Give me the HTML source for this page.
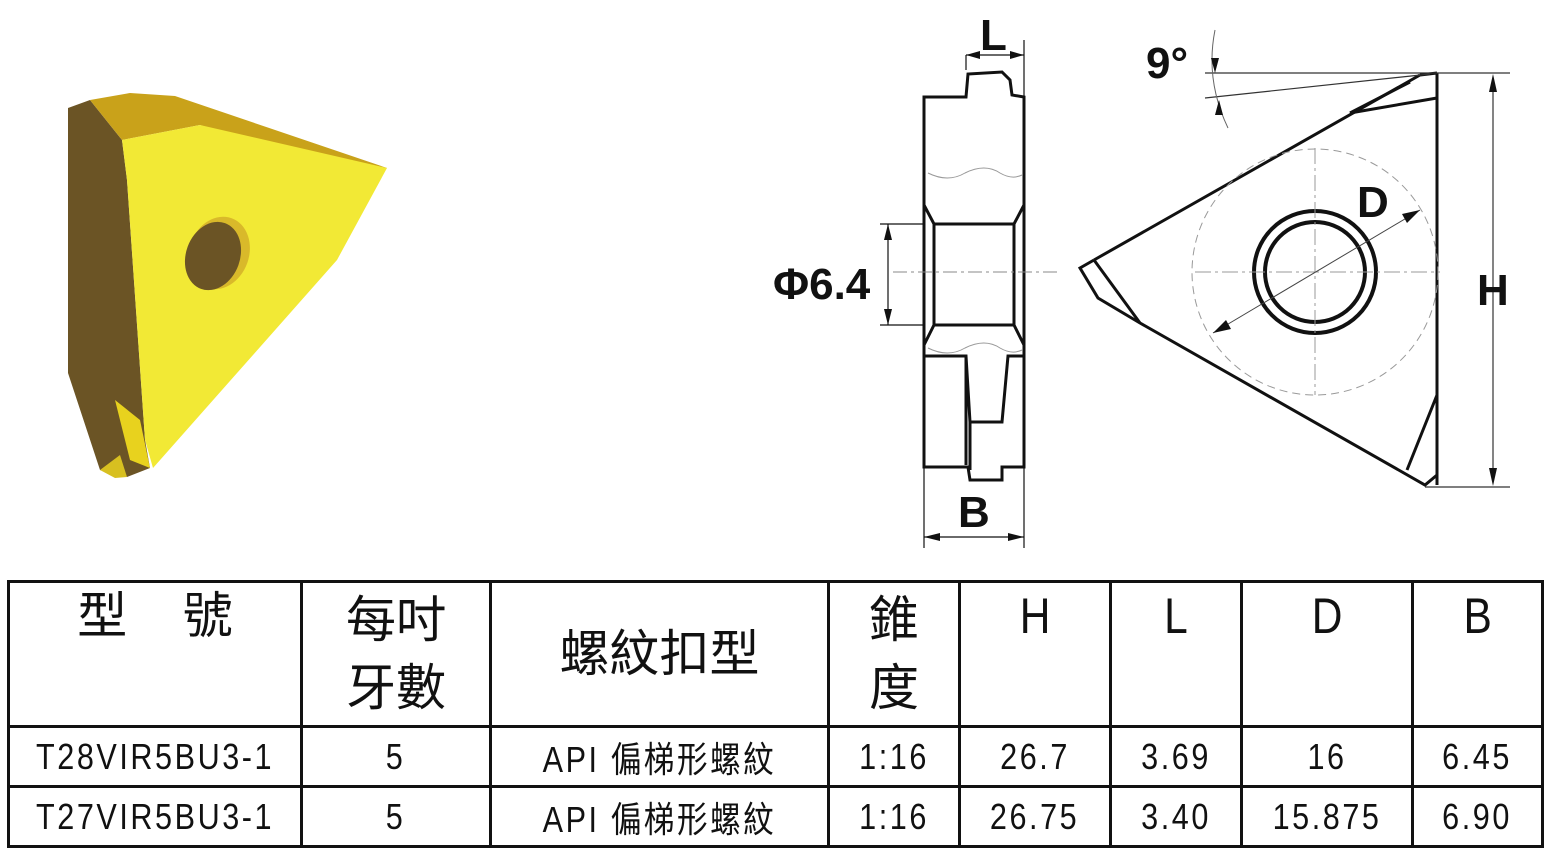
<!DOCTYPE html>
<html><head><meta charset="utf-8"><style>
html,body{margin:0;padding:0;background:#fff;}
body{width:1554px;height:856px;position:relative;overflow:hidden;font-family:"Liberation Sans","Noto Sans CJK TC",sans-serif;}
svg{position:absolute;left:0;top:0;}
table{position:absolute;left:7px;top:580px;border-collapse:collapse;table-layout:fixed;width:1534px;}
td{border:3px solid #111;text-align:center;padding:0;color:#111;overflow:hidden;white-space:nowrap;}
.h{font-size:50px;line-height:66px;}
.d{font-size:36px;height:60px;letter-spacing:3px;}
.n{display:inline-block;transform:scaleX(0.85);}
</style></head><body>
<svg width="1554" height="570" viewBox="0 0 1554 570">
<polygon points="68,108 90,100 122,140 127,180 145,440 150,468 127,477 100,470 68,373" fill="#6b5425"/>
<polygon points="90,100 130,93 175,96 387,168 337,170 200,125 122,140" fill="#c9a21a"/>
<polygon points="122,140 200,125 387,168 337,260 153,468 145,440 127,180" fill="#f2e935"/>
<polygon points="115,400 130,460 150,468 140,420" fill="#e8d21e"/>
<polygon points="100,470 115,478 127,477 120,455" fill="#d8c020"/>
<ellipse cx="219" cy="253" rx="30" ry="37" transform="rotate(20 219 253)" fill="#d9b92a"/>
<ellipse cx="213" cy="256" rx="27" ry="35" transform="rotate(20 213 256)" fill="#6b5425"/>

<g stroke="#111" fill="none">
<path d="M924,97 L966,97 L968,74 L1002,72 L1010,80 L1012,95 L1024,97 L1024,467 L1002,467 L1002,480 L970,480 L968,467 L924,467 Z" stroke-width="3" fill="#fff"/>
<path d="M924,205 L934,224 L1014,224 L1024,205 M924,345 L934,325 L1014,325 L1024,345 M934,224 L934,325 M1014,224 L1014,325" stroke-width="3"/>
<path d="M924,356 L966,356 L970,422 L1002,422 L1008,356 L1024,356 M970,422 L970,470 M966,356 L966,465" stroke-width="3"/>
<path d="M928,173 Q948,183 965,173 Q985,163 1000,173 Q1012,180 1022,175 M928,348 Q948,358 965,348 Q985,338 1000,348 Q1012,355 1022,350" stroke="#999" stroke-width="1"/>
<path d="M893,272 L1057,272" stroke="#888" stroke-width="1" stroke-dasharray="14 4 3 4"/>
<path d="M880,224 L924,224 M880,325 L924,325 M888,224 L888,325" stroke-width="1.2"/>
<path d="M966,70 L966,55 M1024,40 L1024,97 M966,55 L1024,55 M924,467 L924,548 M1024,467 L1024,548 M924,537 L1024,537" stroke-width="1.2"/>
<!-- triangle -->
<path d="M1437,73 L1437,485" stroke-width="3"/>
<path d="M1420,75 L1437,73 M1094,260 L1420,75" stroke-width="3"/>
<path d="M1094,260 L1080,268 L1098,298 L1140,323 L1425,485 L1437,475" stroke-width="3"/>
<path d="M1094,260 L1140,323" stroke-width="3"/>
<path d="M1350,113 L1437,98 M1350,113 L1410,82 M1407,470 L1437,395" stroke-width="3"/>
<circle cx="1315" cy="272" r="61" stroke-width="4"/>
<circle cx="1315" cy="272" r="50" stroke-width="4"/>
<circle cx="1315" cy="272" r="123" stroke="#999" stroke-width="1" stroke-dasharray="8 5"/>
<path d="M1195,272 L1440,272 M1315,148 L1315,395" stroke="#999" stroke-width="1" stroke-dasharray="16 4 3 4"/>
<path d="M1213,333 L1420,210" stroke="#444" stroke-width="1"/>
<path d="M1205,73 L1510,73 M1205,98 L1430,74 M1425,487 L1510,487 M1493,80 L1493,480" stroke="#333" stroke-width="1.2"/>
<path d="M1215,30 Q1205,80 1228,128" stroke="#666" stroke-width="1"/>
</g>
<g fill="#111">
<polygon points="966,55 980,51 980,59"/><polygon points="1024,55 1010,51 1010,59"/>
<polygon points="924,537 940,533 940,541"/><polygon points="1024,537 1008,533 1008,541"/>
<polygon points="888,224 884,240 892,240"/><polygon points="888,325 884,309 892,309"/>
<polygon points="1493,74 1489,92 1497,92"/><polygon points="1493,486 1489,468 1497,468"/>
<polygon points="1215,73 1211,58 1219,58"/><polygon points="1219,100 1215,115 1223,115"/>
<polygon points="1420,210 1402,214 1407,223"/><polygon points="1213,333 1231,329 1226,320"/>
</g>
<g font-family="Liberation Sans,sans-serif" font-size="44" fill="#111" font-weight="bold">
<text x="980" y="50">L</text>
<text x="958" y="527">B</text>
<text x="773" y="299">Φ6.4</text>
<text x="1146" y="78">9°</text>
<text x="1357" y="217">D</text>
<text x="1477" y="305">H</text>
</g>
</svg>
<table>
<colgroup><col style="width:293px"><col style="width:189px"><col style="width:338px"><col style="width:131px"><col style="width:151px"><col style="width:131px"><col style="width:171px"><col style="width:130px"></colgroup>
<tr style="height:145px">
<td style="vertical-align:top" class="h">型&nbsp;&nbsp;&nbsp;&nbsp;號</td>
<td style="line-height:68px" class="h">每吋<br>牙數</td>
<td class="h">螺紋扣型</td>
<td style="line-height:68px" class="h">錐<br>度</td>
<td style="vertical-align:top" class="h"><span class="n">H</span></td>
<td style="vertical-align:top" class="h"><span class="n">L</span></td>
<td style="vertical-align:top" class="h"><span class="n">D</span></td>
<td style="vertical-align:top" class="h"><span class="n">B</span></td>
</tr>
<tr class="d"><td><span class="n">T28VIR5BU3-1</span></td><td><span class="n">5</span></td><td><span class="n">API 偏梯形螺紋</span></td><td><span class="n">1:16</span></td><td><span class="n">26.7</span></td><td><span class="n">3.69</span></td><td><span class="n">16</span></td><td><span class="n">6.45</span></td></tr>
<tr class="d"><td><span class="n">T27VIR5BU3-1</span></td><td><span class="n">5</span></td><td><span class="n">API 偏梯形螺紋</span></td><td><span class="n">1:16</span></td><td><span class="n">26.75</span></td><td><span class="n">3.40</span></td><td><span class="n">15.875</span></td><td><span class="n">6.90</span></td></tr>
</table>
</body></html>
